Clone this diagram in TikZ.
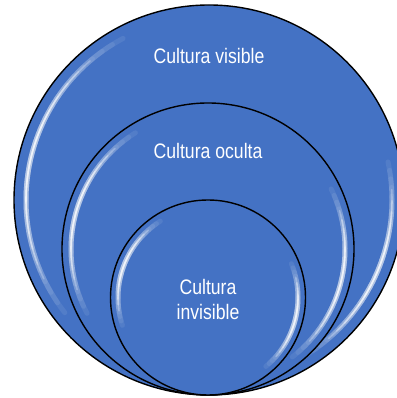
\documentclass[tikz,border=0pt]{standalone}
\usepackage{fontspec}
\setmainfont{Liberation Sans}
\usetikzlibrary{calc, positioning}
\definecolor{AzulCirculo}{RGB}{68, 114, 196}

% brillo blanco sobre el borde interior: centro, radio, angulo inicial, angulo final
\newcommand{\brillo}[4]{%
  \pgfmathsetmacro{\angm}{(#3+#4)/2}
  \foreach \k in {0,...,11} {
    \pgfmathsetmacro{\angh}{(#4-#3)/2*(1-\k/13)}
    \draw[white, line width=5pt, opacity=0.08, line cap=round]
      ($(#1)+({\angm-\angh}:#2pt)$) arc[start angle=\angm-\angh, end angle=\angm+\angh, radius=#2pt];
  }
  \foreach \k in {0,...,5} {
    \pgfmathsetmacro{\angh}{(#4-#3)/2*(0.75-\k/10)}
    \draw[white, line width=1.6pt, opacity=0.25, line cap=round]
      ($(#1)+({\angm-\angh}:#2pt)$) arc[start angle=\angm-\angh, end angle=\angm+\angh, radius=#2pt];
  }
}

\begin{document}
\begin{tikzpicture}[x=1pt, y=1pt,
    capa/.style={circle, draw=black, line width=1.4pt, fill=AzulCirculo, inner sep=0pt},
    texto/.style={text=white, font=\fontsize{21}{25}\selectfont, xscale=0.84, align=center}]
    \useasboundingbox (0,0) rectangle (396,398);

    % Circulo exterior
    \node[capa, minimum size=390pt] (visible) at (209,198) {};
    \brillo{visible.center}{183}{118}{218}
    \brillo{visible.center}{183}{-58}{12}

    % Circulo intermedio
    \node[capa, minimum size=292pt] (oculta) at (208,149) {};
    \brillo{oculta.center}{137}{122}{208}
    \brillo{oculta.center}{137}{-52}{26}

    % Circulo interior
    \node[capa, minimum size=195pt] (invisible) at (208,100.5) {};
    \brillo{invisible.center}{90}{122}{198}
    \brillo{invisible.center}{90}{-50}{22}

    % Rotulos
    \node[texto] (tvisible) at ([yshift=-52pt]visible.north) {Cultura visible};
    \node[texto] (toculta) at ([yshift=-49pt]oculta.north) {Cultura oculta};
    \node[texto] (tinvisible) at ([yshift=-1.5pt]invisible.center) {Cultura\\invisible};
\end{tikzpicture}
\end{document}
